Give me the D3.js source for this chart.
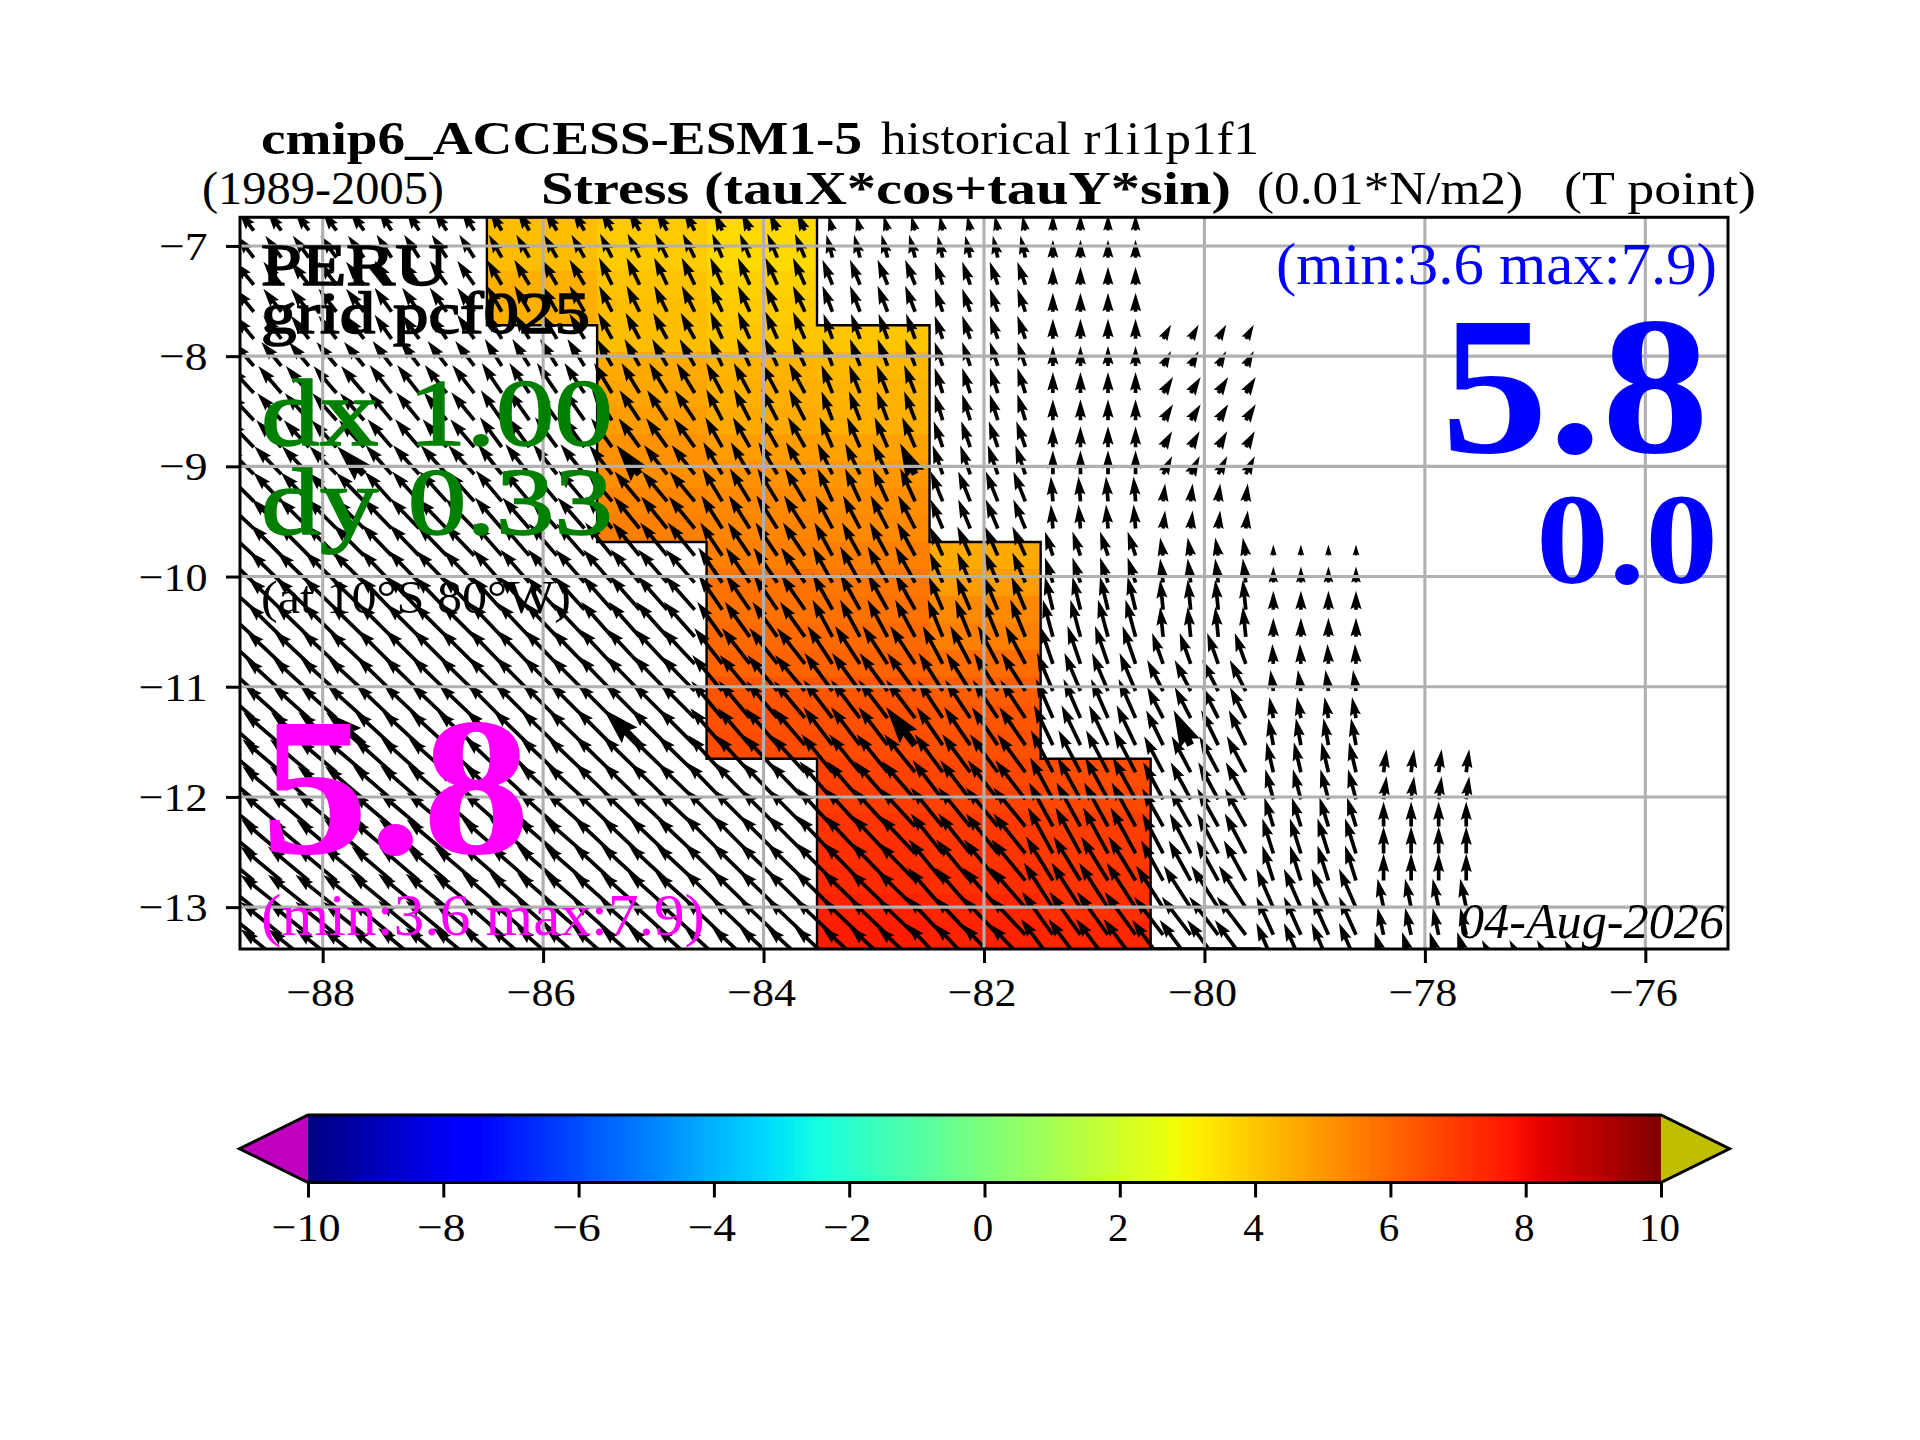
<!DOCTYPE html>
<html><head><meta charset="utf-8">
<script src="https://cdn.jsdelivr.net/npm/d3@7"></script>
<style>html,body{margin:0;padding:0;background:#fff}svg{display:block}</style>
</head><body>
<svg id="c" width="1920" height="1440"></svg>
<script>
// ---- data ----
const rowLats=[-6.86,-7.106,-7.352,-7.597,-7.843,-8.089,-8.335,-8.581,-8.826,-9.072,-9.318,-9.564,-9.81,-10.055,-10.301,-10.547,-10.793,-11.039,-11.284,-11.53,-11.776,-12.022,-12.268,-12.513,-12.759,-13.005,-13.251,-13.497];
const N=null;
// colour field: one list per 1-degree column, one value per latitude row
const cellLonEdges=[-86.51,-85.51,-84.517,-83.515,-82.494,-81.486,-80.488,-79.5];
const cellA=[4.2,4.2,4.5,4.5,N,N,N,N,N,N,N,N,N,N,N,N,N,N,N,N,N,N,N,N,N,N,N,N];
const cellB=[3.9,3.9,4.1,4.2,4.2,4.6,4.7,4.9,5.1,5.2,5.4,5.5,N,N,N,N,N,N,N,N,N,N,N,N,N,N,N,N];
const cellC=[3.6,3.6,3.8,3.9,4.0,4.4,4.5,4.6,4.9,5.1,5.3,5.4,5.5,5.8,5.8,5.95,6.1,6.4,6.5,6.6,N,N,N,N,N,N,N,N];
const cellD=[N,N,N,N,4.0,4.3,4.4,4.5,4.8,5.0,5.2,5.3,5.5,5.7,5.8,5.95,6.1,6.4,6.5,6.6,6.8,6.9,7.1,7.2,7.3,7.5,7.6,7.7];
const cellE=[N,N,N,N,N,N,N,N,N,N,N,N,4.6,4.9,5.3,5.5,5.9,6.2,6.4,6.5,6.7,6.8,7.0,7.1,7.2,7.4,7.5,7.6];
const cellF=[N,N,N,N,N,N,N,N,N,N,N,N,N,N,N,N,N,N,N,N,6.6,6.7,6.9,7.0,7.1,7.2,7.4,7.5];
const cellG=[N,N,N,N,N,N,N,N,N,N,N,N,N,N,N,N,N,N,N,N,N,N,N,N,N,N,N,7.4];
const cellColumns=[cellA,cellB,cellC,cellD,cellE,cellF,cellG];
// vector field: one u and one v list per 1-degree block, one value per latitude row
const blockLons=[-89,-88,-87,-86,-85,-84,-83,-82,-81,-80,-79,-78,-77];
const subLons=[-0.375,-0.125,0.125,0.375];
const u0=[-15,-17,-19,-19,-19,-21,-24,-25,-26,-28,-29,-31,-32,-33,-34,-35,-36,-37,-38,-38,-39,-40,-40,-41,-41,-41,-41,-41];
const v0=[19,22,23,23,23,24,26,27,27,28,29,29,30,31,31,32,33,33,33,33,33,33,33,34,34,33,33,33];
const u1=[-14,-16,-18,-18,-18,-20,-23,-24,-25,-27,-28,-30,-31,-32,-33,-34,-35,-36,-37,-38,-39,-39,-40,-40,-41,-41,-41,-41];
const v1=[19,22,23,23,23,24,27,27,27,28,29,30,31,31,32,33,33,33,33,33,33,33,34,34,34,33,33,33];
const u2=[-13,-15,-17,-17,-17,-19,-22,-23,-24,-26,-27,-29,-30,-31,-32,-33,-34,-35,-36,-37,-38,-39,-40,-40,-40,-41,-41,-41];
const v2=[20,23,24,24,24,25,28,28,28,29,30,30,31,32,33,33,34,34,34,34,34,34,34,34,34,34,34,34];
const u3=[-12,-13,-15,-15,-15,-17,-20,-21,-22,-24,-26,-27,-28,-29,-30,-32,-33,-34,-35,-36,-37,-38,-39,-40,-40,-40,-40,-40];
const v3=[20,23,25,26,25,27,30,30,30,30,31,31,32,33,33,34,34,34,35,35,35,35,35,35,35,35,35,35];
const u4=[-11,-12,-13,-13,-14,-15,-18,-20,-21,-23,-25,-26,-27,-29,-30,-31,-33,-34,-35,-36,-37,-37,-38,-38,-39,-39,-39,-39];
const v4=[20,24,27,26,26,27,30,30,29,29,30,32,33,33,34,35,35,35,35,36,36,36,36,36,36,35,35,35];
const u5=[-8,-10,-12,-12,-12,-13,-16,-16,-17,-19,-20,-21,-22,-24,-24,-25,-28,-30,-31,-32,-34,-36,-37,-38,-38,-38,-38,-38];
const v5=[18,24,27,26,27,28,30,31,30,32,33,33,33,35,35,35,36,36,37,37,37,37,37,38,37,37,36,35];
const u6=[-4,-6,-10,-10,-9,-10,-11,-11,-13,-15,-15,-17,-18,-20,-20,-20,-25,-28,-29,-29,-31,-33,-35,-36,-37,-38,-38,-38];
const v6=[15,23,25,26,25,27,28,29,30,31,33,33,33,36,36,37,38,38,38,38,38,38,38,38,38,37,36,35];
const u7=[-3,-5,-8,-8,-8,-8,-8,-8,-9,-10,-12,-12,-13,-13,-14,-15,-20,-24,-25,-26,-28,-30,-32,-32,-34,-35,-36,-36];
const v7=[15,22,23,23,23,24,25,26,26,29,30,29,29,30,33,37,38,38,38,38,38,39,39,40,41,40,38,38];
const u8=[0,0,0,0,0,0,0,0,0,0,-2,-2,-8,-8,-8,-10,-13,-16,-17,-19,-22,-23,-24,-25,-27,-29,-31,-32];
const v8=[16,18,18,19,20,20,21,21,21,24,25,24,24,25,33,37,38,38,39,40,42,42,44,46,44,45,43,43];
const u9=[N,N,N,N,8,8,10,10,9,9,2,2,-3,-3,-3,-3,-11,-16,-16,-17,-19,-20,-21,-21,-22,-27,-29,-31];
const v9=[N,N,N,N,14,15,16,16,16,18,18,18,18,24,30,30,31,31,31,35,36,37,38,40,40,42,38,42];
const u10=[N,N,N,N,N,N,N,N,N,N,N,N,0,0,0,0,-1,-3,-4,-5,-7,-8,-9,-11,-11,-17,-17,-17];
const v10=[N,N,N,N,N,N,N,N,N,N,N,N,11,16,19,19,20,21,21,27,30,30,29,35,35,39,38,39];
const u11=[N,N,N,N,N,N,N,N,N,N,N,N,N,N,N,N,N,N,N,N,3,3,0,0,0,-6,-6,-9];
const v11=[N,N,N,N,N,N,N,N,N,N,N,N,N,N,N,N,N,N,N,N,23,23,25,27,27,29,27,30];
const u12=[N,N,N,N,N,N,N,N,N,N,N,N,N,N,N,N,N,N,N,N,N,N,N,N,N,N,N,-12];
const v12=[N,N,N,N,N,N,N,N,N,N,N,N,N,N,N,N,N,N,N,N,N,N,N,N,N,N,N,22];
const uBlocks=[u0,u1,u2,u3,u4,u5,u6,u7,u8,u9,u10,u11,u12];
const vBlocks=[v0,v1,v2,v3,v4,v5,v6,v7,v8,v9,v10,v11,v12];
// reference arrows drawn heavier: [lon, row index]
const boldLons=[-87.625,-85.125,-82.625,-80.125];
const boldRows=[9,19];
const xTicks=[-88,-86,-84,-82,-80,-78,-76];
const yTicks=[-7,-8,-9,-10,-11,-12,-13];
const cbTicks=[-10,-8,-6,-4,-2,0,2,4,6,8,10];

// ---- scales ----
const svg=d3.select('#c');
const serif="'Liberation Serif','DejaVu Serif',serif";
const P={l:240,r:1728,t:217.3,b:949};
const x=d3.scaleLinear([-88.75,-75.25],[P.l,P.r]);
const y=d3.scaleLinear([-13.38,-6.74],[P.b,P.t]);
const quiver=d3.scaleLinear([0,10],[0,10]);
const jetR=d3.scaleLinear([0,.35,.66,.89,1],[0,0,1,1,.5]).clamp(true);
const jetG=d3.scaleLinear([0,.125,.375,.64,.91,1],[0,0,1,1,0,0]).clamp(true);
const jetB=d3.scaleLinear([0,.11,.34,.65,1],[.5,1,1,0,0]).clamp(true);
const norm=d3.scaleLinear([-10,10],[0,1]);
const jet=v=>{const t=norm(v);return d3.rgb(jetR(t)*255,jetG(t)*255,jetB(t)*255).formatHex();};
const minus=v=>(v<0?'\u2212':'')+Math.abs(v);
// tick labels are stretched to the wide figures of the reference's type
function styleTicks(sel){
  sel.selectAll('text').attr('font-family',serif).attr('font-size',41).attr('fill','#000')
    .attr('lengthAdjust','spacingAndGlyphs')
    .attr('textLength',d=>String(Math.abs(d)).length*20.5+(d<0?28:0));
}

const defs=svg.append('defs');
defs.append('clipPath').attr('id','ax').append('rect').attr('x',P.l).attr('y',P.t).attr('width',P.r-P.l).attr('height',P.b-P.t);
const plot=svg.append('g').attr('clip-path','url(#ax)');

// ---- colour cells ----
const rowEdge=k=>{
  if(k<0) return rowLats[0]+(rowLats[0]-rowLats[1])/2;
  if(k>=rowLats.length-1) return rowLats[rowLats.length-1]-(rowLats[0]-rowLats[1])/2;
  return (rowLats[k]+rowLats[k+1])/2;
};
const cells=[];
cellColumns.forEach((col,c)=>col.forEach((v,k)=>{ if(v!==null) cells.push({c,k,v}); }));
plot.append('g').selectAll('rect').data(cells).join('rect')
  .attr('x',d=>x(cellLonEdges[d.c])).attr('width',d=>x(cellLonEdges[d.c+1])-x(cellLonEdges[d.c]))
  .attr('y',d=>y(rowEdge(d.k-1))).attr('height',d=>y(rowEdge(d.k))-y(rowEdge(d.k-1)))
  .attr('fill',d=>jet(d.v)).attr('shape-rendering','crispEdges');
const has=(c,k)=>cellColumns[c]&&cellColumns[c][k]!==undefined&&cellColumns[c][k]!==null;
const ol=d3.path();
const seg=(a,b,c2,d)=>{ol.moveTo(a,b);ol.lineTo(c2,d);};
cells.forEach(d=>{
  const x0=x(cellLonEdges[d.c]),x1=x(cellLonEdges[d.c+1]),y0=y(rowEdge(d.k-1)),y1=y(rowEdge(d.k));
  if(!has(d.c-1,d.k)) seg(x0,y0,x0,y1);
  if(!has(d.c+1,d.k)) seg(x1,y0,x1,y1);
  if(!has(d.c,d.k-1)) seg(x0,y0,x1,y0);
  if(!has(d.c,d.k+1)) seg(x0,y1,x1,y1);
});
plot.append('path').attr('d',ol.toString()).attr('fill','none').attr('stroke','#000').attr('stroke-width',2.4).attr('stroke-linecap','square');

// ---- arrows ----
function arrowPath(L,w){
  let hl=5*w,ha=4.5*w,hw=3*w,sw=w;
  if(L<hl){const s=L/hl;hl*=s;ha*=s;hw*=s;sw*=s;}
  return `M0,${-sw/2}L${L-ha},${-sw/2}L${L-hl},${-hw/2}L${L},0L${L-hl},${hw/2}L${L-ha},${sw/2}L0,${sw/2}Z`;
}
const arrows=[];
blockLons.forEach((lon0,b)=>subLons.forEach(dl=>rowLats.forEach((lat,k)=>{
  const u=uBlocks[b][k],v=vBlocks[b][k];
  if(u===null||v===null) return;
  const lon=lon0+dl;
  arrows.push({lon,lat,u,v,bold:boldLons.includes(lon)&&boldRows.includes(k)});
})));
plot.append('g').selectAll('path').data(arrows).join('path')
  .attr('d',d=>arrowPath(quiver(Math.hypot(d.u,d.v)),d.bold?7.4:3.7))
  .attr('transform',d=>`translate(${x(d.lon)},${y(d.lat)}) rotate(${Math.atan2(-d.v,d.u)*180/Math.PI})`)
  .attr('fill','#000');

// ---- grid ----
const grid=svg.append('g').attr('stroke','#b0b0b0').attr('stroke-width',3.1);
grid.selectAll('.gx').data(xTicks).join('line').attr('x1',d=>x(d)).attr('x2',d=>x(d)).attr('y1',P.t).attr('y2',P.b);
grid.selectAll('.gy').data(yTicks).join('line').attr('y1',d=>y(d)).attr('y2',d=>y(d)).attr('x1',P.l).attr('x2',P.r);

// ---- axes ----
const axB=svg.append('g').attr('transform',`translate(0,${P.b})`).call(d3.axisBottom(x).tickValues(xTicks).tickSize(14).tickFormat(minus));
const axL=svg.append('g').attr('transform',`translate(${P.l},0)`).call(d3.axisLeft(y).tickValues(yTicks).tickSize(14).tickFormat(minus));
[axB,axL].forEach(a=>{a.select('.domain').remove();a.selectAll('line').attr('stroke','#000').attr('stroke-width',3);styleTicks(a);});
axB.selectAll('text').attr('dy',null).attr('y',1006-P.b).attr('x',d=>d<0?-2.5:0);
axL.selectAll('text').attr('dy','0.33em').attr('text-anchor','middle')
  .attr('x',d=>-(32.4+(String(Math.abs(d)).length*20.5+28)/2));
svg.append('rect').attr('x',P.l).attr('y',P.t).attr('width',P.r-P.l).attr('height',P.b-P.t).attr('fill','none').attr('stroke','#000').attr('stroke-width',3);

// ---- text ----
function label(str,x0,x1,base,size,o={}){
  const t=svg.append('text').attr('x',x0).attr('y',base).attr('font-family',serif).attr('font-size',size)
    .attr('fill',o.fill||'#000').attr('font-weight',o.bold?'bold':'normal').attr('font-style',o.italic?'italic':'normal')
    .attr('textLength',x1-x0).attr('lengthAdjust','spacingAndGlyphs').text(str);
  if(o.heavy) t.attr('stroke',o.fill||'#000').attr('stroke-width',o.heavy);
  return t;
}
label('cmip6_ACCESS-ESM1-5',261,862,154,47,{bold:true});
label('historical r1i1p1f1',881,1259,154,47);
label('(1989-2005)',202,444,204,47);
label('Stress (tauX*cos+tauY*sin)',541,1231,204,47,{bold:true});
label('(0.01*N/m2)',1257,1523,204,47);
label('(T point)',1564,1756,204,47);
label('PERU',261,448,285,60,{heavy:1.6});
label('grid pcf025',261,590,333,60,{heavy:1.6});
label('dx 1.00',261,613,445,96,{fill:'#008000',heavy:1.6});
label('dy 0.33',261,613,534,96,{fill:'#008000',heavy:1.6});
label('(at 10\u00b0S 80\u00b0W)',261,571,613,47);
label('5.8',261,530,853,197,{fill:'#ff00ff',bold:true});
label('(min:3.6 max:7.9)',261,705,935,60,{fill:'#ff00ff'});
label('(min:3.6 max:7.9)',1276,1717,284,60,{fill:'#0000ff'});
label('5.8',1441,1709,452,197,{fill:'#0000ff',bold:true});
label('0.0',1536,1718,583,130,{fill:'#0000ff',bold:true});
label('04-Aug-2026',1459,1724,938,50,{italic:true});

// ---- colour bar ----
const CB={l:308,r:1661,t:1115,b:1182.5,tl:239.5,tr:1729.5};
const cx=d3.scaleLinear([-10,10],[CB.l,CB.r]);
const levels=d3.range(256);
const cbg=svg.append('g');
const lv=d3.scaleLinear([0,256],[-10,10]);
cbg.selectAll('rect').data(levels).join('rect')
  .attr('x',d=>cx(lv(d))).attr('width',d=>cx(lv(d+1))-cx(lv(d))+0.6).attr('y',CB.t).attr('height',CB.b-CB.t)
  .attr('fill',d=>jet(lv(d+0.5))).attr('shape-rendering','crispEdges');
const mid=(CB.t+CB.b)/2;
svg.append('path').attr('d',d3.line()([[CB.l,CB.t],[CB.tl,mid],[CB.l,CB.b]])+'Z').attr('fill','#bf00bf');
svg.append('path').attr('d',d3.line()([[CB.r,CB.t],[CB.tr,mid],[CB.r,CB.b]])+'Z').attr('fill','#bfbf00');
svg.append('path').attr('d',d3.line()([[CB.l,CB.t],[CB.r,CB.t],[CB.tr,mid],[CB.r,CB.b],[CB.l,CB.b],[CB.tl,mid]])+'Z')
  .attr('fill','none').attr('stroke','#000').attr('stroke-width',3);
const axC=svg.append('g').attr('transform',`translate(0,${CB.b})`).call(d3.axisBottom(cx).tickValues(cbTicks).tickSize(15).tickFormat(minus));
axC.select('.domain').remove();
axC.selectAll('line').attr('stroke','#000').attr('stroke-width',3);
styleTicks(axC);
axC.selectAll('text').attr('dy',null).attr('y',1240.7-CB.b).attr('x',d=>d<0?-2.5:-2);
</script>
</body></html>
